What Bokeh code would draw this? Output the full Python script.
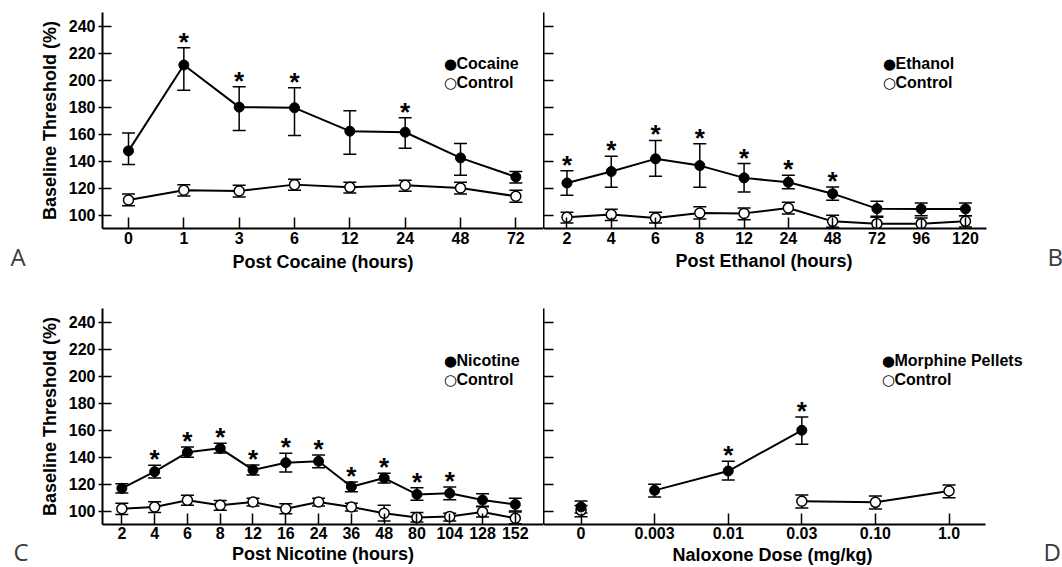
from bokeh.plotting import figure
from bokeh.layouts import column, row
from bokeh.models import Range1d, FixedTicker, Whisker, TeeHead, ColumnDataSource, Label, Title
from bokeh.core.properties import value
from bokeh.embed import file_html
from bokeh.resources import INLINE

FONT = "Liberation Sans"
LETTER_FONT = "Open Sans"
Y_TICKS = [100, 120, 140, 160, 180, 200, 220, 240]
Y_LABEL = "Baseline Threshold (%)"

# ---------------- Panel A: cocaine ----------------
coc_t = ["0", "1", "3", "6", "12", "24", "48", "72"]
coc_mean = [147.5, 211.1, 179.9, 179.4, 162.1, 161.3, 142.3, 128.2]
coc_hi = [160.8, 223.9, 195.0, 194.2, 177.2, 172.0, 152.9, 132.2]
coc_lo = [137.4, 192.5, 162.6, 158.9, 145.0, 149.5, 129.4, 123.7]
coc_ctl_mean = [111.1, 118.3, 117.8, 122.5, 120.5, 122.0, 120.0, 113.9]
coc_ctl_hi = [115.6, 122.5, 122.0, 126.5, 124.2, 125.7, 124.2, 118.3]
coc_ctl_lo = [106.9, 114.1, 113.4, 118.3, 116.3, 117.6, 115.6, 109.4]
coc_sig = [0, 1, 1, 1, 0, 1, 0, 0]

# ---------------- Panel B: ethanol ----------------
eth_t = ["2", "4", "6", "8", "12", "24", "48", "72", "96", "120"]
eth_mean = [123.7, 132.2, 141.6, 136.6, 127.5, 124.2, 115.8, 104.7, 104.5, 104.5]
eth_hi = [132.7, 143.5, 155.2, 152.7, 138.1, 129.4, 120.8, 110.1, 108.9, 108.9]
eth_lo = [114.6, 120.5, 128.7, 120.5, 117.1, 119.5, 110.9, 99.0, 99.5, 99.5]
eth_ctl_mean = [98.3, 100.3, 97.8, 101.5, 101.2, 105.2, 95.3, 93.6, 93.6, 95.3]
eth_ctl_hi = [102.0, 104.2, 102.0, 106.1, 105.2, 109.4, 99.8, 98.3, 97.8, 99.5]
eth_ctl_lo = [94.1, 96.0, 94.1, 97.0, 96.5, 100.7, 90.9, 89.4, 87.9, 91.1]
eth_sig = [1, 1, 1, 1, 1, 1, 1, 0, 0, 0]

# ---------------- Panel C: nicotine ----------------
nic_t = ["2", "4", "6", "8", "12", "16", "24", "36", "48", "80", "104", "128", "152"]
nic_mean = [116.8, 129.1, 143.5, 146.4, 130.4, 135.8, 136.8, 118.0, 124.4, 112.3, 113.1, 108.1, 104.9]
nic_hi = [120.2, 133.8, 147.4, 150.1, 134.1, 142.7, 141.5, 121.5, 127.9, 117.3, 117.8, 112.8, 109.4]
nic_lo = [113.3, 124.4, 139.8, 143.0, 126.7, 128.9, 132.1, 114.3, 120.7, 107.9, 108.4, 103.5, 100.0]
nic_ctl_mean = [101.7, 103.0, 107.9, 104.2, 106.7, 101.7, 106.7, 103.0, 98.3, 95.1, 96.0, 99.3, 94.6]
nic_ctl_hi = [105.7, 106.9, 111.6, 107.7, 109.4, 105.4, 109.4, 105.7, 104.2, 98.8, 98.3, 103.2, 99.3]
nic_ctl_lo = [97.5, 98.8, 104.2, 100.5, 103.7, 98.0, 103.7, 100.0, 92.6, 91.9, 92.6, 95.6, 90.6]
nic_sig = [0, 1, 1, 1, 1, 1, 1, 1, 1, 1, 1, 0, 0]

# ---------------- Panel D: naloxone in morphine-pelleted ----------------
dose = ["0", "0.003", "0.01", "0.03", "0.10", "1.0"]
mor_mean = [103.0, 115.3, 129.6, 159.8, None, None]
mor_hi = [107.4, 119.8, 136.8, 169.6, None, None]
mor_lo = [98.5, 110.4, 123.0, 149.4, None, None]
mor_ctl_mean = [100.5, None, None, 107.2, 106.4, 114.8]
mor_ctl_hi = [104.0, None, None, 111.9, 111.1, 119.3]
mor_ctl_lo = [95.8, None, None, 102.2, 101.5, 109.9]
mor_sig = [0, 0, 1, 1, 0, 0]


def make_panel(width, height, borders, xr, bounds, cats, xlabel, left_panel,
               title_offset=None, stand=(3, 5)):
    bl, br, bt, bb = borders
    p = figure(width=width, height=height, x_range=Range1d(*xr), y_range=Range1d(90, 250),
               output_backend="svg", toolbar_location=None,
               min_border_left=bl, min_border_right=br, min_border_top=bt, min_border_bottom=bb,
               background_fill_color="white", border_fill_color="white")
    p.outline_line_color = None
    p.xgrid.visible = False
    p.ygrid.visible = False

    xa = p.xaxis[0]
    xa.bounds = bounds
    xa.ticker = FixedTicker(ticks=list(range(len(cats))))
    xa.major_label_overrides = {i: c for i, c in enumerate(cats)}
    xa.major_label_text_font = FONT
    xa.major_label_text_font_style = "bold"
    xa.major_label_text_font_size = "16px"
    xa.major_label_text_color = "black"
    xa.major_label_standoff = stand[0]
    xa.major_tick_in = 11
    xa.major_tick_out = 0
    xa.major_tick_line_width = 1.5
    xa.minor_tick_line_color = None
    xa.axis_line_width = 2
    if title_offset is None:
        xa.axis_label = xlabel
        xa.axis_label_text_font = FONT
        xa.axis_label_text_font_style = "bold"
        xa.axis_label_text_font_size = "18px"
        xa.axis_label_text_color = "black"
        xa.axis_label_standoff = stand[1]
    else:
        # axis title placed under the axis' own extent (the frame is wider than the axis)
        p.add_layout(Title(text=xlabel, align="left", offset=title_offset, standoff=stand[1],
                           text_font=FONT, text_font_style="bold", text_font_size="18px",
                           text_color="black"), "below")

    ya = p.yaxis[0]
    ya.ticker = FixedTicker(ticks=Y_TICKS)
    ya.minor_tick_line_color = None
    ya.axis_line_width = 2
    ya.major_tick_line_width = 1.5
    if left_panel:
        ya.axis_label = Y_LABEL
        ya.axis_label_text_font = FONT
        ya.axis_label_text_font_style = "bold"
        ya.axis_label_text_font_size = "18px"
        ya.axis_label_text_color = "black"
        ya.axis_label_standoff = 6
        ya.major_label_text_font = FONT
        ya.major_label_text_font_style = "bold"
        ya.major_label_text_font_size = "16px"
        ya.major_label_text_color = "black"
        ya.major_label_standoff = 3
        ya.major_tick_in = 9
        ya.major_tick_out = 4
    else:
        ya.major_label_overrides = {t: "" for t in Y_TICKS}
        ya.major_label_standoff = 0
        ya.major_tick_in = 10
        ya.major_tick_out = 0
    return p


def add_series(p, mean, lo, hi, connect_from=0):
    idx = [i for i, v in enumerate(mean) if v is not None]
    lx = [i for i in range(connect_from, len(mean))]
    ly = [mean[i] if mean[i] is not None else float("nan") for i in lx]
    p.line(lx, ly, line_color="black", line_width=2)
    src = ColumnDataSource(dict(x=idx, y=[mean[i] for i in idx],
                                lo=[lo[i] for i in idx], hi=[hi[i] for i in idx]))
    w = Whisker(base="x", upper="hi", lower="lo", source=src, dimension="height",
                line_color="black", line_width=1.5,
                upper_head=TeeHead(size=13, line_width=1.5, line_color="black"),
                lower_head=TeeHead(size=13, line_width=1.5, line_color="black"))
    p.add_layout(w)
    return src


def add_markers(p, src, filled):
    if filled:
        p.scatter("x", "y", source=src, size=10, fill_color="black", line_color="black", line_width=1)
    else:
        p.scatter("x", "y", source=src, size=10, fill_color="white", line_color="black", line_width=1.5)


def add_stars(p, hi, sig):
    xs = [i for i, s in enumerate(sig) if s]
    ys = [hi[i] for i in xs]
    p.text(xs, ys, text=["*"] * len(xs), text_font=value(FONT), text_font_style="bold",
           text_font_size="26px", text_align="center", text_baseline="alphabetic",
           y_offset=-6, text_color="black")


def add_legend(p, x, y, names):
    syms = ["\u25cf", "\u25cb"]
    for k, (s, n) in enumerate(zip(syms, names)):
        yy = y - 19 * k
        p.add_layout(Label(x=x, y=yy, x_units="screen", y_units="screen", text=s,
                           text_font="DejaVu Sans", text_font_size="15px",
                           text_align="center", text_baseline="middle", text_color="black"))
        p.add_layout(Label(x=x + 6, y=yy, x_units="screen", y_units="screen", text=n,
                           text_font=FONT, text_font_style="bold", text_font_size="16px",
                           text_align="left", text_baseline="middle", text_color="black"))


def letter_strip(width, height, letters):
    s = figure(width=width, height=height, x_range=Range1d(0, width), y_range=Range1d(0, height),
               x_axis_type=None, y_axis_type=None, output_backend="svg", toolbar_location=None,
               min_border=0, min_border_left=0, min_border_right=0, min_border_top=0,
               min_border_bottom=0, background_fill_color="white", border_fill_color="white")
    s.outline_line_color = None
    s.grid.visible = False
    for (x, y, letter) in letters:
        s.add_layout(Label(x=x, y=y, x_units="screen", y_units="screen", text=letter,
                           text_font=LETTER_FONT, text_font_size="24px", text_color="#3c3c3c",
                           text_align="left", text_baseline="alphabetic"))
    return s


# ---- build panels ----
pA = make_panel(507, 296, (64, 0, 12, 68), (-0.47, 7.5), (-0.47, 7.5), coc_t,
                "Post Cocaine (hours)", True)
sA1 = add_series(pA, coc_ctl_mean, coc_ctl_lo, coc_ctl_hi)
sA2 = add_series(pA, coc_mean, coc_lo, coc_hi)
add_markers(pA, sA1, False)
add_markers(pA, sA2, True)
add_stars(pA, coc_hi, coc_sig)
add_legend(pA, 348, 165, ["Cocaine", "Control"])

pB = make_panel(499, 296, (0, 0, 12, 68), (-0.53, 10.74), (-0.53, 9.47), eth_t,
                "Post Ethanol (hours)", False, title_offset=132)
sB1 = add_series(pB, eth_ctl_mean, eth_ctl_lo, eth_ctl_hi)
sB2 = add_series(pB, eth_mean, eth_lo, eth_hi)
add_markers(pB, sB1, False)
add_markers(pB, sB2, True)
add_stars(pB, eth_hi, eth_sig)
add_legend(pB, 346, 165, ["Ethanol", "Control"])

pC = make_panel(507, 271, (64, 0, 12, 43), (-0.59, 12.86), (-0.59, 12.86), nic_t,
                "Post Nicotine (hours)", True, stand=(2, 2))
sC1 = add_series(pC, nic_ctl_mean, nic_ctl_lo, nic_ctl_hi)
sC2 = add_series(pC, nic_mean, nic_lo, nic_hi)
add_markers(pC, sC1, False)
add_markers(pC, sC2, True)
add_stars(pC, nic_hi, nic_sig)
add_legend(pC, 348, 164, ["Nicotine", "Control"])

pD = make_panel(499, 271, (0, 0, 12, 43), (-0.51, 6.27), (-0.51, 5.5), dose,
                "Naloxone Dose (mg/kg)", False, title_offset=129, stand=(2, 2))
sD1 = add_series(pD, mor_ctl_mean, mor_ctl_lo, mor_ctl_hi, connect_from=1)
sD2 = add_series(pD, mor_mean, mor_lo, mor_hi, connect_from=1)
add_markers(pD, sD1, False)
add_markers(pD, sD2, True)
add_stars(pD, mor_hi, mor_sig)
add_legend(pD, 345, 164, ["Morphine Pellets", "Control"])

stL = letter_strip(36, 567, [(10, 311, "A"), (13, 16, "C")])
stR = letter_strip(20, 567, [(5, 311, "B"), (1, 16, "D")])

grid = column(row(pA, pB, spacing=0), row(pC, pD, spacing=0), spacing=0)
layout = row(stL, grid, stR, spacing=0)
open("out.html", "w").write(file_html(layout, INLINE))
